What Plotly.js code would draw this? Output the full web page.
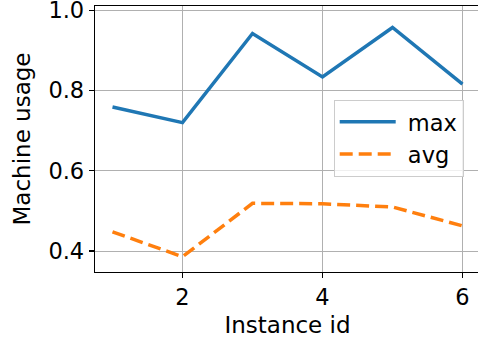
<!DOCTYPE html>
<html>
<head>
<meta charset="utf-8">
<script src="https://cdn.plot.ly/plotly-3.0.1.min.js"></script>
<style>
html,body{margin:0;padding:0;overflow:hidden;background:#fff;}
#chart{width:482px;height:341px;}
</style>
</head>
<body>
<div id="chart"></div>
<script>
const instanceIds = [1, 2, 3, 4, 5, 6];
const maxUsage = [0.759, 0.720, 0.942, 0.834, 0.957, 0.816];
const avgUsage = [0.448, 0.386, 0.519, 0.518, 0.510, 0.463];
const seriesNames = ["max", "avg"];
const xTickVals = [2, 4, 6];
const yTickVals = [0.4, 0.6, 0.8, 1.0];
const yTickText = ["0.4", "0.6", "0.8", "1.0"];

const FONT = "DejaVu Sans, sans-serif";
const FS = 22.5;
const traces = [
  {x: instanceIds, y: maxUsage, name: "\u00a0" + seriesNames[0], type: "scatter", mode: "lines",
   line: {color: "#1f77b4", width: 3.5}},
  {x: instanceIds, y: avgUsage, name: "\u00a0" + seriesNames[1], type: "scatter", mode: "lines",
   line: {color: "#ff7f0e", width: 3.5, dash: "13px,6px"}}
];
const axisCommon = {
  showline: true, linecolor: "#000", linewidth: 1.3, mirror: true,
  ticks: "outside", ticklen: 5, tickwidth: 1.3, tickcolor: "#000",
  showgrid: true, gridcolor: "#b0b0b0", gridwidth: 1, zeroline: false,
  ticklabeloverflow: "allow",
  tickfont: {family: FONT, size: FS, color: "#000"}
};
const layout = {
  width: 482, height: 341,
  margin: {l: 95, r: 2, t: 6, b: 69, pad: 0},
  paper_bgcolor: "#fff", plot_bgcolor: "#fff",
  font: {family: FONT, color: "#000"},
  showlegend: true,
  legend: {x: 0.62, y: 0.648, xanchor: "left", yanchor: "top",
    bgcolor: "rgba(255,255,255,0.8)", bordercolor: "#cccccc", borderwidth: 1,
    font: {family: FONT, size: FS, color: "#000"}, itemwidth: 56},
  xaxis: Object.assign({}, axisCommon, {
    range: [0.75, 6.25], tickvals: xTickVals, ticktext: xTickVals.map(String),
    title: {text: "Instance id", font: {family: FONT, size: 23, color: "#000"}, standoff: 7}
  }),
  yaxis: Object.assign({}, axisCommon, {
    range: [0.348, 1.0105], tickvals: yTickVals, ticktext: yTickText,
    title: {text: "Machine usage", font: {family: FONT, size: 23, color: "#000"}, standoff: 11}
  })
};
Plotly.newPlot("chart", traces, layout, {displayModeBar: false, staticPlot: true});
</script>
</body>
</html>
